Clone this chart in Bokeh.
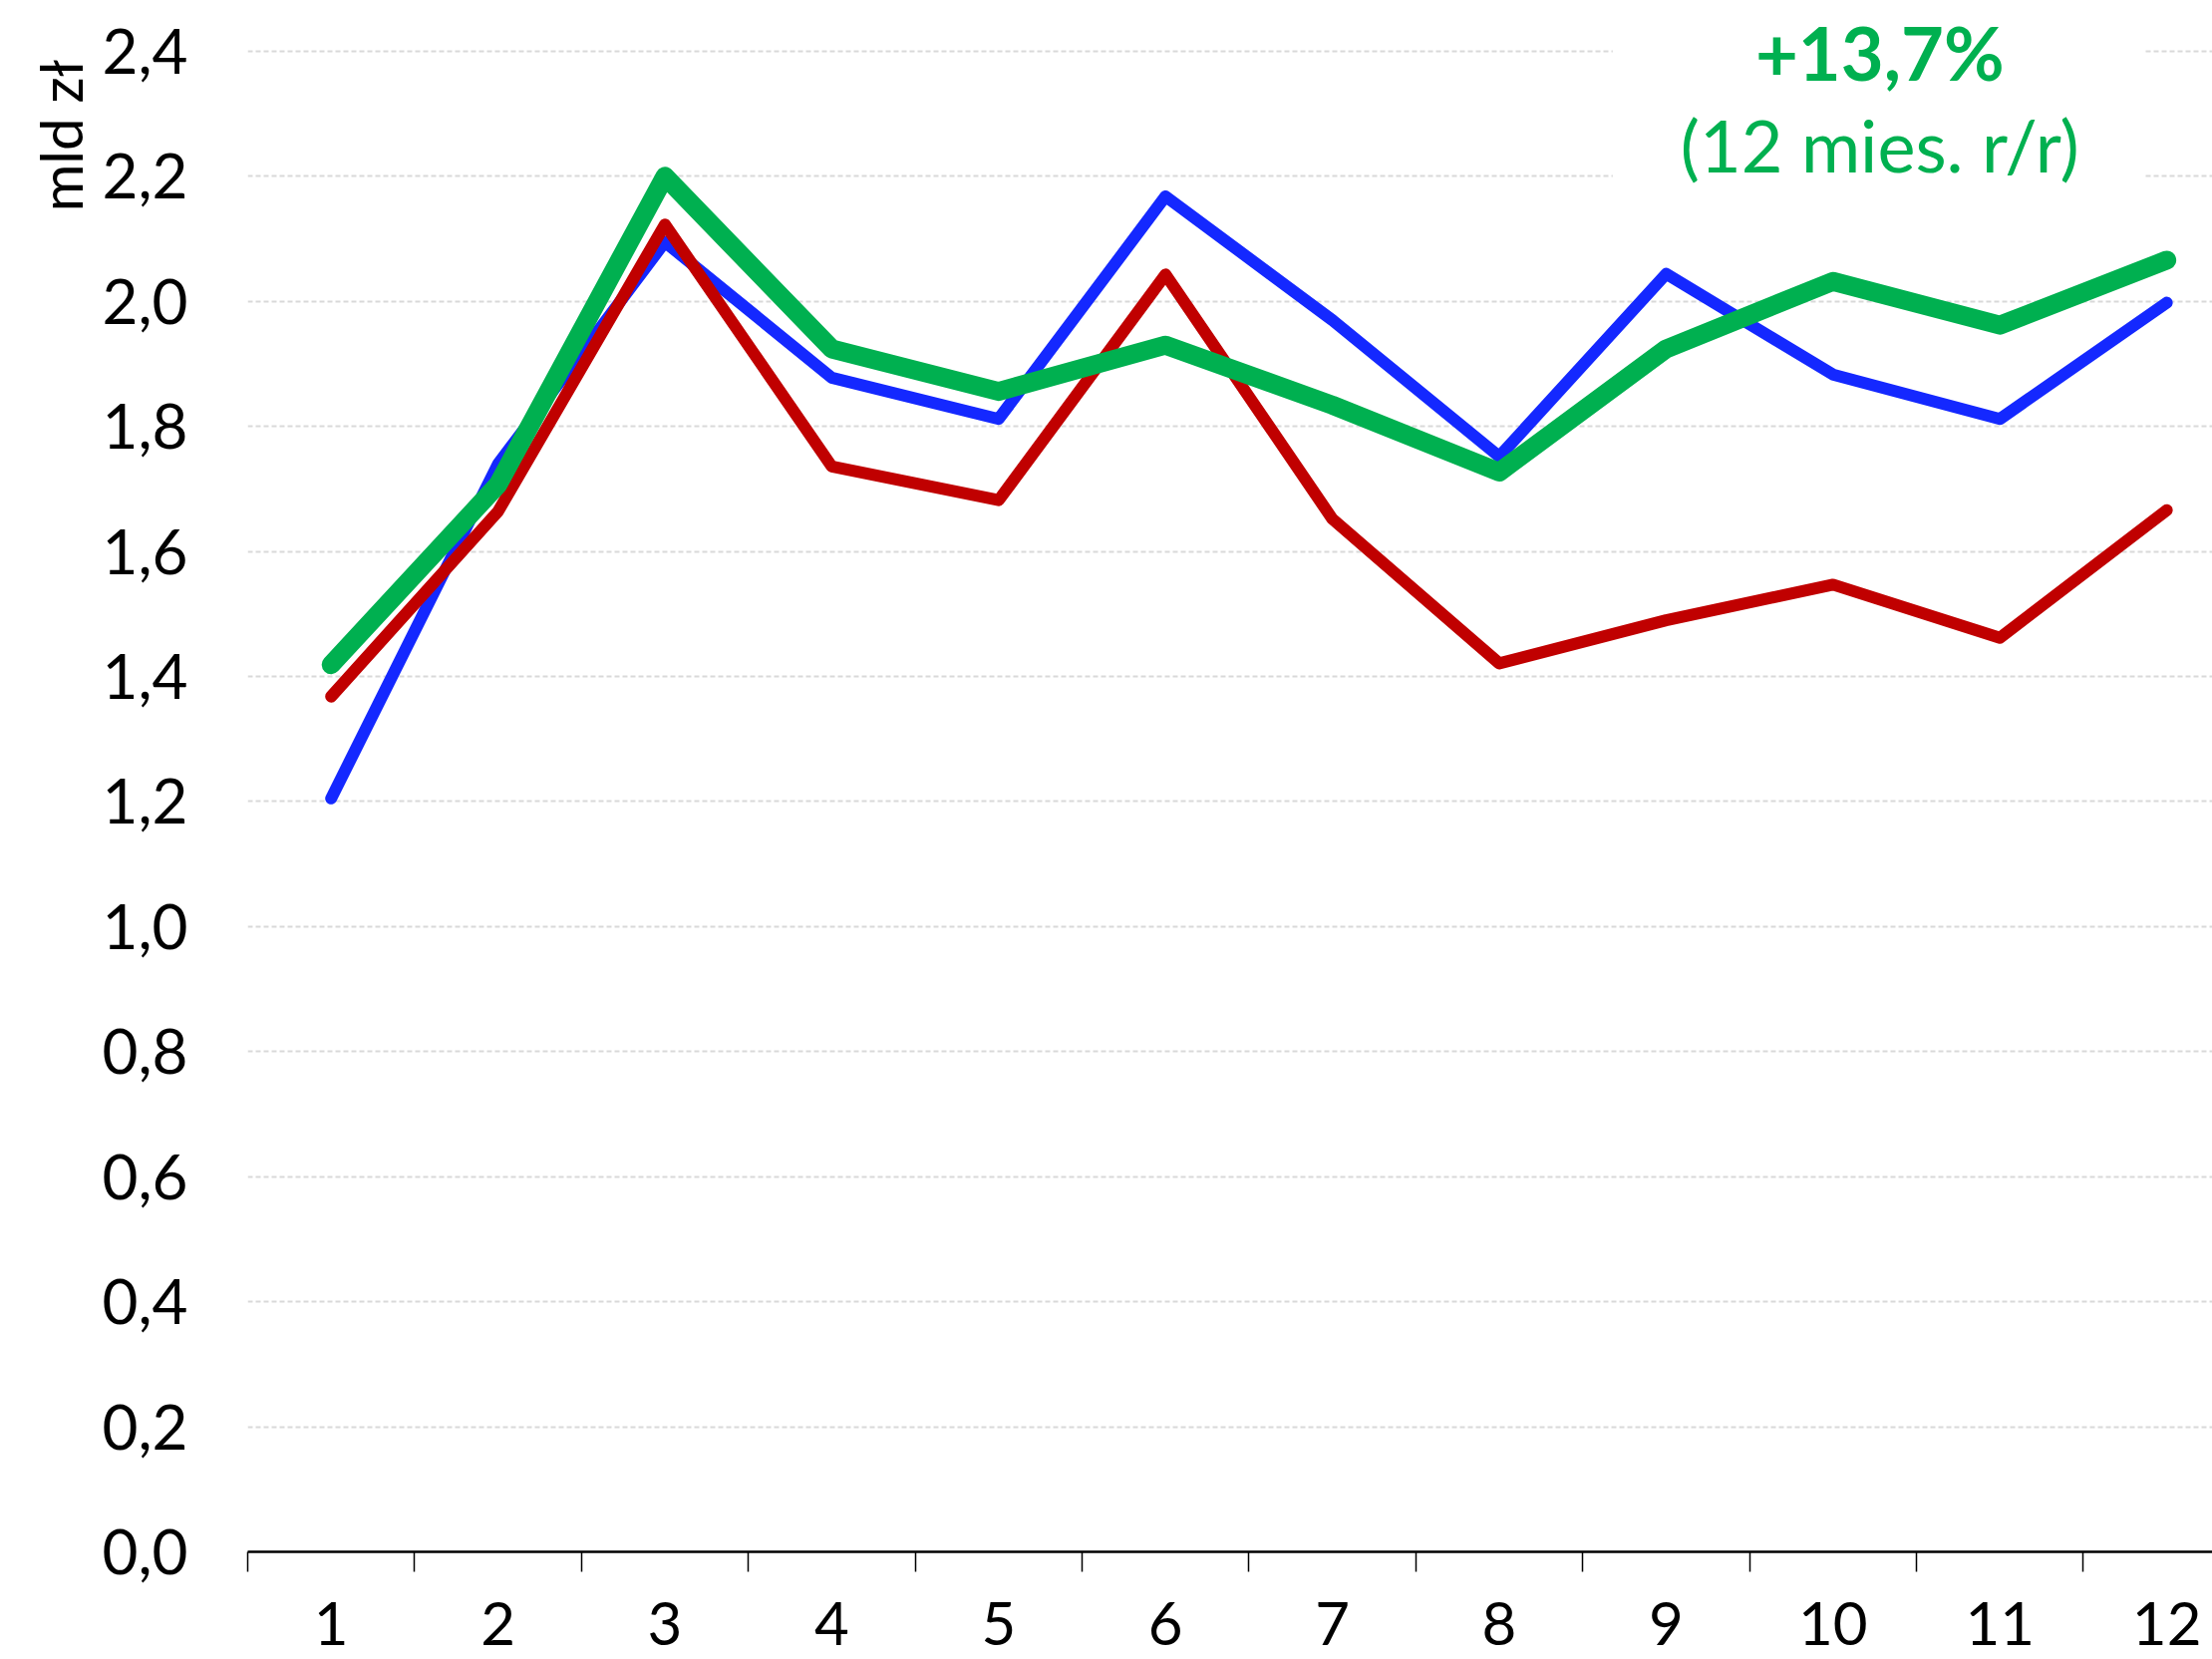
from bokeh.plotting import figure
from bokeh.models import (ColumnDataSource, FixedTicker, Label, CustomJSTickFormatter, Range1d, Title)
from bokeh.embed import file_html
from bokeh.resources import INLINE

# ---- data ----
months = [1, 2, 3, 4, 5, 6, 7, 8, 9, 10, 11, 12]
series_blue = [1.205, 1.74, 2.095, 1.878, 1.812, 2.168, 1.970, 1.752, 2.044, 1.883, 1.812, 1.998]
series_red = [1.368, 1.664, 2.123, 1.736, 1.682, 2.043, 1.652, 1.421, 1.490, 1.547, 1.462, 1.666]
series_green = [1.419, 1.707, 2.200, 1.924, 1.856, 1.930, 1.834, 1.727, 1.924, 2.032, 1.962, 2.066]
y_ticks = [0.0, 0.2, 0.4, 0.6, 0.8, 1.0, 1.2, 1.4, 1.6, 1.8, 2.0, 2.2, 2.4]
x_minor_ticks = [0.5, 1.5, 2.5, 3.5, 4.5, 5.5, 6.5, 7.5, 8.5, 9.5, 10.5, 11.5, 12.5]
y_axis_title = "mld zł"
note_main = "+13,7%"
note_sub = "(12 mies. r/r)"

FONT = "Lato"

p = figure(width=2219, height=1664, output_backend="svg", toolbar_location=None,
           x_range=Range1d(0.5, 12.274), y_range=Range1d(0, 2.4813),
           min_border_left=248, min_border_right=0, min_border_top=0, min_border_bottom=108)
p.outline_line_color = None
p.background_fill_color = "white"
p.border_fill_color = "white"

# x axis
p.xaxis.ticker = FixedTicker(ticks=months, minor_ticks=x_minor_ticks)
p.xaxis.axis_line_color = "black"
p.xaxis.axis_line_width = 2.5
p.xaxis.major_tick_out = 0
p.xaxis.major_tick_in = 0
p.xaxis.minor_tick_out = 20
p.xaxis.minor_tick_in = 0
p.xaxis.minor_tick_line_color = "black"
p.xaxis.minor_tick_line_width = 1.5
p.xaxis.major_label_text_font = FONT
p.xaxis.major_label_text_font_size = "60px"
p.xaxis.major_label_text_color = "black"
p.xaxis.major_label_standoff = 30

# y axis
p.yaxis.ticker = FixedTicker(ticks=y_ticks)
p.yaxis.formatter = CustomJSTickFormatter(code="return tick.toFixed(1).replace('.', ',');")
p.yaxis.axis_line_color = None
p.yaxis.major_tick_line_color = None
p.yaxis.minor_tick_line_color = None
p.yaxis.major_label_text_font = FONT
p.yaxis.major_label_text_font_size = "62px"
p.yaxis.major_label_text_color = "black"
p.yaxis.major_label_standoff = 54

# y-axis title at the top-left, rotated
p.add_layout(Title(text=y_axis_title, align="right", offset=59, text_font=FONT,
                   text_font_size="58px", text_font_style="normal", text_color="black"), "left")

# grid
p.xgrid.grid_line_color = None
p.ygrid.ticker = FixedTicker(ticks=y_ticks)
p.ygrid.grid_line_color = "#D9D9D9"
p.ygrid.grid_line_width = 2
p.ygrid.grid_line_dash = "5 3"

# white box behind the annotation (interrupts gridlines)
p.quad(left=[8.68], right=[11.87], bottom=[2.1], top=[2.45], fill_color="white", line_color=None)

src = ColumnDataSource(dict(x=months, blue=series_blue, red=series_red, green=series_green))
p.line("x", "blue", source=src, line_color="#1428FF", line_width=12, line_join="round", line_cap="round")
p.line("x", "red", source=src, line_color="#C00000", line_width=12, line_join="round", line_cap="round")
p.line("x", "green", source=src, line_color="#00B050", line_width=19, line_join="round", line_cap="round")

# annotation
p.add_layout(Label(x=10.28, y=2.399, text=note_main, text_align="center", text_baseline="alphabetic",
                   text_font=FONT, text_font_style="bold", text_font_size="74px", text_color="#00B050"))
p.add_layout(Label(x=10.28, y=2.251, text=note_sub, text_align="center", text_baseline="alphabetic",
                   text_font=FONT, text_font_size="72px", text_color="#00B050"))

open("out.html", "w").write(file_html(p, INLINE))
